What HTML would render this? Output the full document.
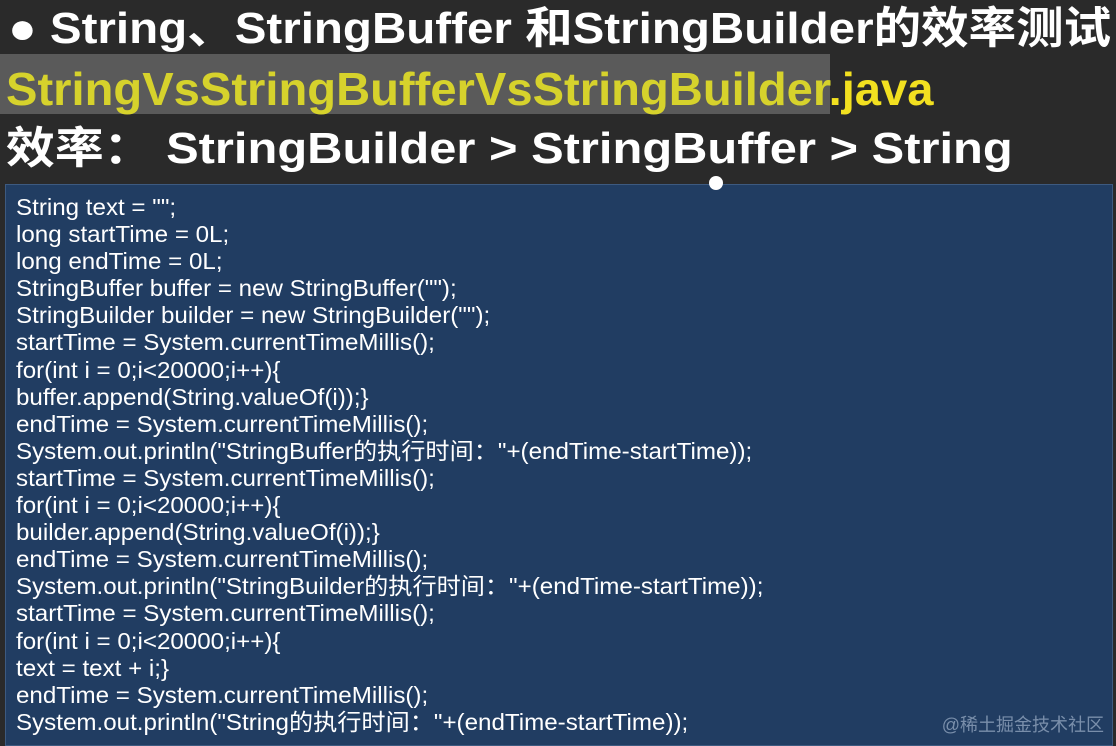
<!DOCTYPE html>
<html><head><meta charset="utf-8"><style>
body{margin:0;width:1116px;height:742px;overflow:hidden;background:#2a2a2a;font-family:"Liberation Sans","Noto Sans CJK SC",sans-serif;position:relative}
.t{position:absolute;left:6px;white-space:nowrap;font-weight:bold;color:#fff;transform-origin:0 0}
#l1{top:-8px;left:8px;font-size:44px;transform:scaleX(1.08)}
#hl{position:absolute;left:0;top:54px;width:830px;height:60px;background:#5a5a5a}
#l2{top:62px;color:#d6d22c;font-size:46px;transform:scaleX(1.025)}
#l2 span{color:#f2e020}
#l3{top:112px;font-size:44px;transform:scaleX(1.11)}
#box{position:absolute;left:5px;top:184px;width:1106px;height:560px;background:#213d62;border:1px solid #3d5a80}
#code{position:absolute;left:16px;top:194px;color:#fff;font-size:23px;line-height:27.1px;white-space:pre;transform:scaleX(1.05);transform-origin:0 0}
#dot{position:absolute;left:709px;top:176px;width:14px;height:14px;border-radius:50%;background:#fff}
#wm{position:absolute;right:12px;top:711px;color:#8fa3bd;font-size:18px;opacity:.8}
</style></head><body>
<div class="t" id="l1">● String、StringBuffer 和StringBuilder的效率测试</div>
<div id="hl"></div>
<div class="t" id="l2">StringVsStringBufferVsStringBuilder<span>.java</span></div>
<div class="t" id="l3">效率： StringBuilder &gt; StringBuffer &gt; String</div>
<div id="box"></div>
<div id="dot"></div>
<div id="code">String text = "";
long startTime = 0L;
long endTime = 0L;
StringBuffer buffer = new StringBuffer("");
StringBuilder builder = new StringBuilder("");
startTime = System.currentTimeMillis();
for(int i = 0;i&lt;20000;i++){
buffer.append(String.valueOf(i));}
endTime = System.currentTimeMillis();
System.out.println("StringBuffer的执行时间："+(endTime-startTime));
startTime = System.currentTimeMillis();
for(int i = 0;i&lt;20000;i++){
builder.append(String.valueOf(i));}
endTime = System.currentTimeMillis();
System.out.println("StringBuilder的执行时间："+(endTime-startTime));
startTime = System.currentTimeMillis();
for(int i = 0;i&lt;20000;i++){
text = text + i;}
endTime = System.currentTimeMillis();
System.out.println("String的执行时间："+(endTime-startTime));</div>
<div id="wm">@稀土掘金技术社区</div>
</body></html>
